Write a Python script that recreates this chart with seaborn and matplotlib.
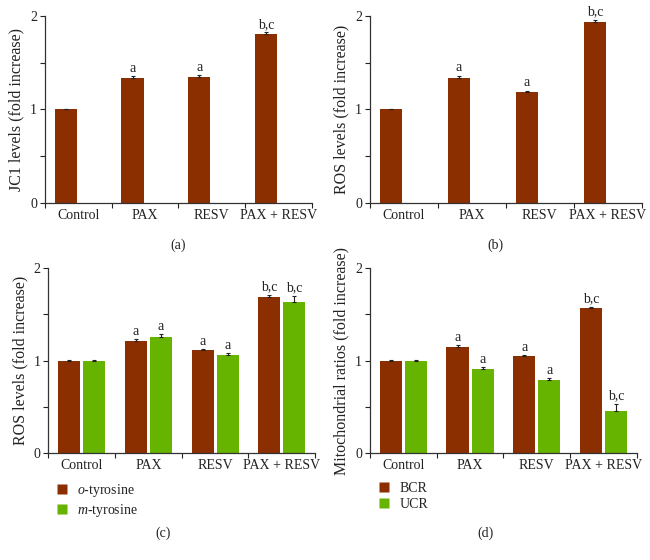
import numpy as np
import pandas as pd
import matplotlib
matplotlib.use("Agg")
import matplotlib.pyplot as plt
from matplotlib.lines import Line2D
import seaborn as sns

# data
groups = ["Control", "PAX", "RESV", "PAX + RESV"]

jc1 = [1.00, 1.34, 1.35, 1.81]
jc1_err = [0.01, 0.015, 0.015, 0.015]
jc1_marks = ["", "a", "a", "b,c"]

ros = [1.00, 1.34, 1.19, 1.94]
ros_err = [0.01, 0.02, 0.01, 0.02]
ros_marks = ["", "a", "a", "b,c"]

o_tyr = [1.00, 1.21, 1.11, 1.69]
o_tyr_err = [0.01, 0.02, 0.015, 0.02]
m_tyr = [1.00, 1.26, 1.06, 1.63]
m_tyr_err = [0.01, 0.025, 0.02, 0.07]
tyr_marks = ["", "a", "a", "b,c"]

bcr = [1.00, 1.15, 1.05, 1.57]
bcr_err = [0.01, 0.02, 0.01, 0.015]
ucr = [1.00, 0.91, 0.79, 0.45]
ucr_err = [0.01, 0.02, 0.02, 0.08]
mito_marks = ["", "a", "a", "b,c"]

BROWN = "#8B2E00"
GREEN = "#66B300"
TXT = "#222222"

sns.set_theme(style="ticks")
plt.rcParams["font.family"] = ["Liberation Serif", "DejaVu Serif"]
plt.rcParams["mathtext.fontset"] = "custom"
plt.rcParams["mathtext.it"] = "Liberation Serif:italic"
plt.rcParams["mathtext.rm"] = "Liberation Serif"
plt.rcParams["font.size"] = 10
plt.rcParams["text.color"] = TXT
plt.rcParams["axes.labelcolor"] = TXT
plt.rcParams["xtick.color"] = TXT
plt.rcParams["ytick.color"] = TXT
plt.rcParams["axes.edgecolor"] = "#333333"


def draw(ax, series, ylabel):
    # series: list of (name, values, errors, marks, colour)
    rows = []
    for name, vals, errs, marks, col in series:
        for g, v in zip(groups, vals):
            rows.append({"group": g, "series": name, "value": v})
    palette = {s[0]: s[4] for s in series}
    if len(series) == 1:
        # single series panels keep the slot of an empty second series
        for g in groups:
            rows.append({"group": g, "series": "_empty", "value": 0.0})
        palette["_empty"] = "white"
    df = pd.DataFrame(rows)
    sns.barplot(data=df, x="group", y="value", hue="series", order=groups,
                palette=palette, width=0.75, gap=0.12,
                errorbar=None, legend=False, ax=ax, saturation=1,
                edgecolor="none")
    # error bars and letters over each bar
    for k, (name, vals, errs, marks, col) in enumerate(series):
        bars = ax.patches[k * len(groups):(k + 1) * len(groups)]
        xs = [b.get_x() + b.get_width() / 2 for b in bars]
        ax.errorbar(xs, vals, yerr=[np.zeros(len(vals)), errs], fmt="none",
                    ecolor="#222222", elinewidth=0.8, capsize=1.5, capthick=0.8)
        for x, v, e, m in zip(xs, vals, errs, marks):
            if m:
                ax.text(x, v + e + 0.015, m, ha="center", va="bottom",
                        fontsize=10, color=TXT)
    ax.set_ylim(0, 2)
    ax.set_xlim(-0.5, 3.5)
    ax.set_yticks([0, 1, 2])
    ax.set_yticks([0.5, 1.5], minor=True)
    ax.set_xticks(range(len(groups)))
    ax.set_xticklabels(groups, fontsize=10)
    ax.set_xticks(np.arange(-0.5, 4.0, 1.0), minor=True)
    ax.tick_params(axis="x", which="major", length=0, pad=4)
    ax.tick_params(axis="x", which="minor", length=3.5, width=0.8, direction="out")
    ax.tick_params(axis="y", which="both", length=3.5, width=0.8, direction="out",
                   labelsize=10, pad=2)
    ax.set_xlabel("")
    ax.set_ylabel(ylabel, fontsize=11.5, labelpad=4)
    sns.despine(ax=ax)
    for sp in ("left", "bottom"):
        ax.spines[sp].set_linewidth(0.9)


fig = plt.figure(figsize=(6.5, 5.6), dpi=100)
ax_a = fig.add_axes([0.069, 0.6375, 0.411, 0.334])
ax_b = fig.add_axes([0.569, 0.6375, 0.418, 0.334])
ax_c = fig.add_axes([0.074, 0.191, 0.411, 0.330])
ax_d = fig.add_axes([0.569, 0.191, 0.411, 0.330])

draw(ax_a, [("JC1", jc1, jc1_err, jc1_marks, BROWN)], "JC1 levels (fold increase)")
draw(ax_b, [("ROS", ros, ros_err, ros_marks, BROWN)], "ROS levels (fold increase)")
draw(ax_c, [("o", o_tyr, o_tyr_err, tyr_marks, BROWN),
            ("m", m_tyr, m_tyr_err, tyr_marks, GREEN)], "ROS levels (fold increase)")
draw(ax_d, [("BCR", bcr, bcr_err, mito_marks, BROWN),
            ("UCR", ucr, ucr_err, mito_marks, GREEN)], "Mitochondrial ratios (fold increase)")


def sq(c):
    return Line2D([], [], marker="s", linestyle="none", markersize=7,
                  markerfacecolor=c, markeredgecolor="none")


ax_c.legend([sq(BROWN), sq(GREEN)], [r"$\it{o}$-tyrosine", r"$\it{m}$-tyrosine"],
            loc="upper left", bbox_to_anchor=(-0.02, -0.09), frameon=False,
            handlelength=1.0, handletextpad=0.6, labelspacing=0.2, fontsize=10)
ax_d.legend([sq(BROWN), sq(GREEN)], ["BCR", "UCR"],
            loc="upper left", bbox_to_anchor=(-0.02, -0.09), frameon=False,
            handlelength=1.0, handletextpad=0.6, labelspacing=0.2, fontsize=10)

fig.text(178 / 650, 1 - 245 / 560, "(a)", ha="center", va="center", fontsize=10)
fig.text(495 / 650, 1 - 245 / 560, "(b)", ha="center", va="center", fontsize=10)
fig.text(163 / 650, 1 - 533 / 560, "(c)", ha="center", va="center", fontsize=10)
fig.text(485 / 650, 1 - 533 / 560, "(d)", ha="center", va="center", fontsize=10)

fig.savefig("out.png", dpi=100, facecolor="white")
